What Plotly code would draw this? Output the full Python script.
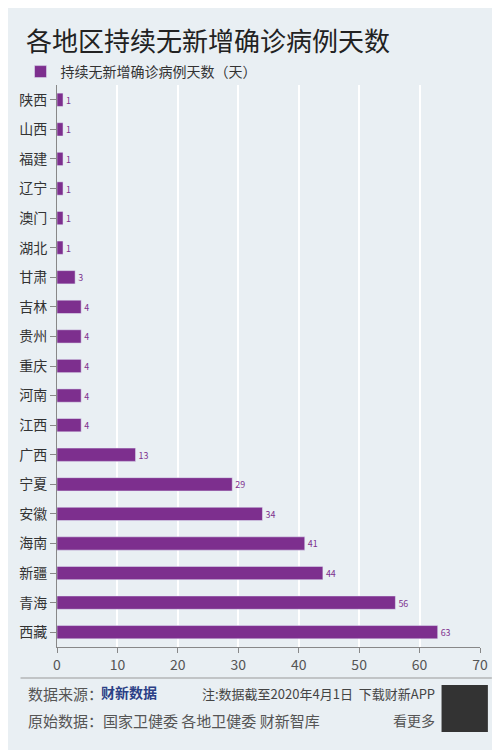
import plotly.graph_objects as go

provinces = ["陕西","山西","福建","辽宁","澳门","湖北","甘肃","吉林","贵州","重庆","河南","江西","广西","宁夏","安徽","海南","新疆","青海","西藏"]
days = [1,1,1,1,1,1,3,4,4,4,4,4,13,29,34,41,44,56,63]
xticks = [0,10,20,30,40,50,60,70]

F = "Noto Sans CJK SC"
purple = "#7d2f8e"
L, R, T, B = 43, 28, 77, 111
W, H = 500, 750
PW, PH = W-L-R, H-T-B
fig = go.Figure(go.Bar(
    y=provinces, x=days, orientation="h", marker_color=purple, width=0.45,
    text=[str(d) for d in days], textposition="outside",
    textfont=dict(color=purple, size=10, family=F), cliponaxis=False,
    name="持续无新增确诊病例天数（天）", showlegend=True))

def px2x(px): return (px-4-L)/PW
def py2y(py): return (H-B-(py-8))/PH

fig.update_layout(
    width=W, height=H, paper_bgcolor="#e9eff3", plot_bgcolor="#e9eff3",
    margin=dict(l=L, r=R, t=T, b=B),
    font=dict(family=F, color="#333"),
    legend=dict(x=px2x(10), y=py2y(72), xanchor="left", yanchor="middle", orientation="h",
                font=dict(size=14, color="#333"), bgcolor="rgba(0,0,0,0)"),
    xaxis=dict(range=[0,70], tickvals=xticks, showgrid=True, gridcolor="white", gridwidth=2,
               showline=True, linecolor="#888", ticks="outside", tickcolor="#888",
               tickfont=dict(size=14, color="#555"), zeroline=False, automargin=False),
    yaxis=dict(autorange="reversed", tickfont=dict(size=14, color="#333"),
               ticks="outside", tickcolor="#888", ticklen=6, showline=True, linecolor="#888",
               automargin=False),
)
def annp(t, px, py, size, color="#444", xa="left"):
    fig.add_annotation(text=t, x=px2x(px), y=py2y(py), xref="paper", yref="paper", showarrow=False,
                       xanchor=xa, yanchor="middle", font=dict(size=size, color=color, family=F))
annp("各地区持续无新增确诊病例天数", 14, 40, 26, "#222")
annp("数据来源：", 16, 694, 15, "#555")
annp("<b>财新数据</b>", 90, 692, 14, "#2b3f86")
annp("注:数据截至2020年4月1日  下载财新APP", 432, 694, 13, "#444", "right")
annp("原始数据：国家卫健委 各地卫健委 财新智库", 16, 720, 15, "#555")
annp("看更多", 432, 720, 14, "#555", "right")
fig.add_shape(type="line", xref="paper", yref="paper", x0=px2x(10), x1=px2x(488),
              y0=py2y(678), y1=py2y(678), line=dict(color="#999", width=1))
fig.add_shape(type="rect", xref="paper", yref="paper", x0=px2x(437), x1=px2x(484),
              y0=py2y(732), y1=py2y(685), fillcolor="#333", line=dict(width=0))
fig.write_html("out.html")
